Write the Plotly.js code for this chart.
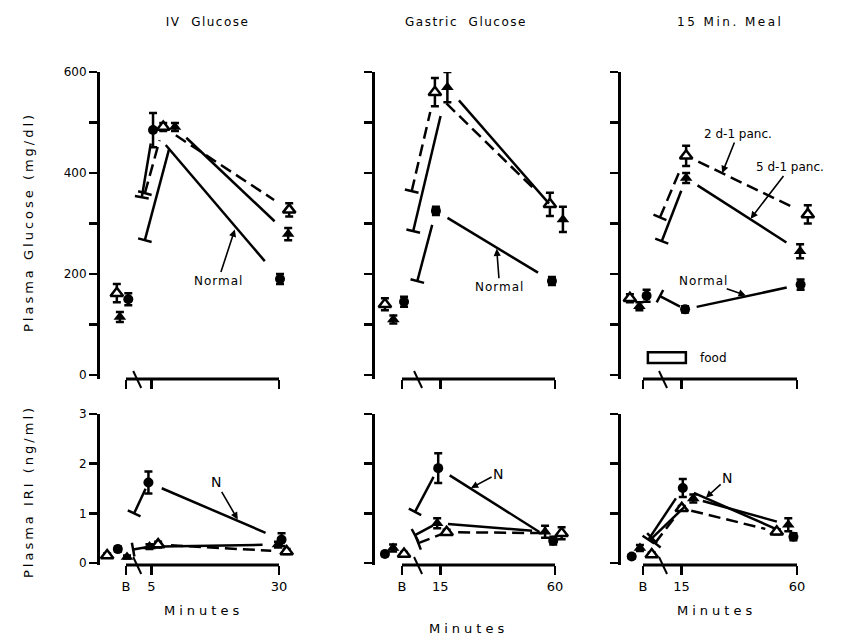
<!DOCTYPE html>
<html><head><meta charset="utf-8">
<script src="https://cdn.plot.ly/plotly-3.0.1.min.js"></script>
<style>html,body{margin:0;padding:0;background:#fff}</style>
</head><body><div id="chart" style="width:857px;height:635px"></div>
<script>
// ================= DATA =================
// Times in minutes (B = baseline, plotted near 0; markers are offset sideways as in the figure)
// Series order in each panel: Normal (filled circle), 2 d-1 panc. (open triangle), 5 d-1 panc. (filled triangle)

// --- IV Glucose : plasma glucose (mg/dl)
const ivGluNormT = [0.45, 5.3, 30.2];  const ivGluNormY = [150, 485, 190]; const ivGluNormE = [12, 34, 10];
const ivGlu2dT   = [-1.8, 7.3, 32.0];  const ivGlu2dY   = [162, 491, 327]; const ivGlu2dE   = [18, 8, 13];
const ivGlu5dT   = [-1.2, 9.6, 31.8];  const ivGlu5dY   = [115, 491, 279]; const ivGlu5dE   = [10, 8, 12];
const ivGluRiseT = [3.1, 3.7, 3.7];    const ivGluRiseY = [352, 360, 267];

// --- Gastric Glucose : plasma glucose
const gaGluNormT = [0.8, 13.3, 58.8];  const gaGluNormY = [145, 325, 186]; const gaGluNormE = [10, 8, 8];
const gaGlu2dT   = [-6.7, 12.9, 58.0]; const gaGlu2dY   = [140, 560, 338]; const gaGlu2dE   = [12, 28, 23];
const gaGlu5dT   = [-3.4, 17.8, 63.1]; const gaGlu5dY   = [110, 570, 308]; const gaGlu5dE   = [8, 30, 25];
const gaGluRiseT = [6.0, 3.8, 4.4];    const gaGluRiseY = [186, 364, 285];

// --- 15 Min. Meal : plasma glucose
const mlGluNormT = [1.4, 16.4, 61.4];  const mlGluNormY = [157, 130, 179]; const mlGluNormE = [12, 6, 10];
const mlGlu2dT   = [-5.1, 16.8, 64.2]; const mlGlu2dY   = [152, 434, 318]; const mlGlu2dE   = [8, 20, 18];
const mlGlu5dT   = [-1.4, 16.8, 61.2]; const mlGlu5dY   = [136, 390, 245]; const mlGlu5dE   = [8, 10, 14];
const mlGluRiseT = [6.6, 6.6, 7.3];    const mlGluRiseY = [156, 312, 265];

// --- IV Glucose : plasma IRI (ng/ml)
const ivIriNormT = [-1.6, 4.4, 30.5];  const ivIriNormY = [0.28, 1.62, 0.47]; const ivIriNormE = [0.05, 0.22, 0.13];
const ivIri2dT   = [-3.7, 6.3, 31.5];  const ivIri2dY   = [0.15, 0.37, 0.23]; const ivIri2dE   = [0.04, 0.06, 0.05];
const ivIri5dT   = [0.2, 4.6, 29.8];   const ivIri5dY   = [0.12, 0.33, 0.37]; const ivIri5dE   = [0.03, 0.05, 0.06];
const ivIriRiseT = [1.6, null, 1.4];   const ivIriRiseY = [1.0, null, 0.27];

// --- Gastric Glucose : plasma IRI
const gaIriNormT = [-6.7, 14.2, 59.3]; const gaIriNormY = [0.18, 1.91, 0.45]; const gaIriNormE = [0.04, 0.30, 0.08];
const gaIri2dT   = [0.8, 17.5, 62.6];  const gaIri2dY   = [0.18, 0.62, 0.60]; const gaIri2dE   = [0.04, 0.05, 0.12];
const gaIri5dT   = [-3.5, 13.8, 56.1]; const gaIri5dY   = [0.30, 0.80, 0.63]; const gaIri5dE   = [0.07, 0.10, 0.12];
const gaIriRiseT = [5.1, 6.4, 5.1];    const gaIriRiseY = [1.03, 0.40, 0.56];

// --- 15 Min. Meal : plasma IRI
const mlIriNormT = [-4.4, 15.5, 58.6]; const mlIriNormY = [0.13, 1.51, 0.53]; const mlIriNormE = [0.04, 0.18, 0.07];
const mlIri2dT   = [3.4, 15.1, 52.1];  const mlIri2dY   = [0.17, 1.10, 0.63]; const mlIri2dE   = [0.04, 0.05, 0.05];
const mlIri5dT   = [-1.2, 19.6, 56.6]; const mlIri5dY   = [0.30, 1.30, 0.77]; const mlIri5dE   = [0.06, 0.08, 0.13];
const mlIriRiseT = [2.1, 4.7, 3.5];    const mlIriRiseY = [0.47, 0.40, 0.50];

// Axis ticks
const xTickVals = [[0, 5, 30], [0, 15, 60], [0, 15, 60]];
const xTickText = [['B', '5', '30'], ['B', '15', '60'], ['B', '15', '60']];
const gluTicks = [0, 100, 200, 300, 400, 500, 600];
const gluTickText = ['0', '', '200', '', '400', '', '600'];
const iriTicks = [0, 1, 2, 3];
const iriTickText = ['0', '1', '2', '3'];
const columnTitles = ['IV\u00a0 Glucose', 'Gastric\u00a0 Glucose', '15 Min. Meal'];

// ================= LAYOUT GEOMETRY =================
const W = 857, H = 635;
const FONT = 'DejaVu Sans';
const cols = [
  {left: 100, right: 302, B: 126, sx: 5.1,   last: 30, brk: 2.2},
  {left: 375, right: 577, B: 402, sx: 2.55,  last: 60, brk: 6.3},
  {left: 621, right: 832, B: 643, sx: 2.567, last: 60, brk: 7.8}
];
const rows = [
  {zero: 375, top: 72,  axis: 379, vmax: 600, sy: 303 / 600, ticks: gluTicks, text: gluTickText},
  {zero: 563, top: 414, axis: 565, vmax: 3,   sy: 149 / 3,   ticks: iriTicks, text: iriTickText}
];

const panels = [
  {row: 0, col: 0, s: [[ivGluNormT, ivGluNormY, ivGluNormE], [ivGlu2dT, ivGlu2dY, ivGlu2dE], [ivGlu5dT, ivGlu5dY, ivGlu5dE]], rt: ivGluRiseT, ry: ivGluRiseY},
  {row: 0, col: 1, s: [[gaGluNormT, gaGluNormY, gaGluNormE], [gaGlu2dT, gaGlu2dY, gaGlu2dE], [gaGlu5dT, gaGlu5dY, gaGlu5dE]], rt: gaGluRiseT, ry: gaGluRiseY},
  {row: 0, col: 2, s: [[mlGluNormT, mlGluNormY, mlGluNormE], [mlGlu2dT, mlGlu2dY, mlGlu2dE], [mlGlu5dT, mlGlu5dY, mlGlu5dE]], rt: mlGluRiseT, ry: mlGluRiseY},
  {row: 1, col: 0, s: [[ivIriNormT, ivIriNormY, ivIriNormE], [ivIri2dT, ivIri2dY, ivIri2dE], [ivIri5dT, ivIri5dY, ivIri5dE]], rt: ivIriRiseT, ry: ivIriRiseY},
  {row: 1, col: 1, s: [[gaIriNormT, gaIriNormY, gaIriNormE], [gaIri2dT, gaIri2dY, gaIri2dE], [gaIri5dT, gaIri5dY, gaIri5dE]], rt: gaIriRiseT, ry: gaIriRiseY},
  {row: 1, col: 2, s: [[mlIriNormT, mlIriNormY, mlIriNormE], [mlIri2dT, mlIri2dY, mlIri2dE], [mlIri5dT, mlIri5dY, mlIri5dE]], rt: mlIriRiseT, ry: mlIriRiseY}
];

const styles = [
  {marker: {symbol: 'circle', size: 10, color: '#000'}, dash: 'solid'},
  {marker: {symbol: 'triangle-up', size: 11, color: '#fff', line: {color: '#000', width: 2.5}}, dash: '12px,6px'},
  {marker: {symbol: 'triangle-up', size: 11, color: '#000'}, dash: 'solid'}
];

const traces = [];
const layout = {
  width: W, height: H, margin: {l: 0, r: 0, t: 0, b: 0},
  paper_bgcolor: '#fff', plot_bgcolor: 'rgba(0,0,0,0)', showlegend: false,
  font: {family: FONT, color: '#000', size: 12},
  shapes: [], annotations: []
};

function seg(p, q, a, b) {
  return {x: [p[0] + (q[0] - p[0]) * a, p[0] + (q[0] - p[0]) * b],
          y: [p[1] + (q[1] - p[1]) * a, p[1] + (q[1] - p[1]) * b]};
}

panels.forEach((P, k) => {
  const n = k + 1, c = cols[P.col], r = rows[P.row];
  const xa = n === 1 ? 'x' : 'x' + n, ya = n === 1 ? 'y' : 'y' + n;
  layout['xaxis' + (n === 1 ? '' : n)] = {
    domain: [c.left / W, c.right / W], range: [(c.left - c.B) / c.sx, (c.right - c.B) / c.sx],
    anchor: ya, showline: false, zeroline: false, showgrid: false,
    ticks: 'outside', tickvals: xTickVals[P.col], ticktext: xTickText[P.col],
    ticklen: 9, tickwidth: 2.5, tickcolor: '#000',
    showticklabels: P.row === 1, tickfont: {family: FONT, size: 13, color: '#000'}
  };
  layout['yaxis' + (n === 1 ? '' : n)] = {
    domain: [1 - r.axis / H, 1 - r.top / H], range: [-(r.axis - r.zero) / r.sy, r.vmax],
    anchor: xa, showline: true, linewidth: 3, linecolor: '#000', zeroline: false, showgrid: false,
    ticks: 'outside', tickvals: r.ticks, ticktext: P.col === 0 ? r.text : r.ticks.map(() => ''),
    ticklen: 8, tickwidth: 2.5, tickcolor: '#000', tickfont: {family: FONT, size: 12, color: '#000'}
  };
  // x-axis line from B to last tick, plus axis-break mark
  const yAx = 1 - r.axis / H;
  layout.shapes.push({type: 'line', xref: 'paper', yref: 'paper',
    x0: c.B / W, x1: (c.B + c.last * c.sx) / W, y0: yAx, y1: yAx, line: {color: '#000', width: 3}});
  const bx = c.B + c.brk * c.sx;
  layout.shapes.push({type: 'line', xref: 'paper', yref: 'paper',
    x0: (bx - 4) / W, x1: (bx + 4) / W, y0: 1 - (r.axis - 8) / H, y1: 1 - (r.axis + 9) / H,
    line: {color: '#000', width: 2}});

  P.s.forEach((S, j) => {
    const st = styles[j];
    const pts = S[0].map((t, i) => [t, S[1][i]]);
    // decay line between time point 1 and 2
    const d = seg(pts[1], pts[2], 0.1, 0.88);
    traces.push({x: d.x, y: d.y, xaxis: xa, yaxis: ya, mode: 'lines', hoverinfo: 'skip',
      line: {color: '#000', width: 2.5, dash: st.dash}});
    // rise line emerging from the axis break toward the peak
    if (P.rt[j] !== null) {
      const s0 = [P.rt[j], P.ry[j]];
      const rr = seg(s0, pts[1], 0, 0.8);
      traces.push({x: rr.x, y: rr.y, xaxis: xa, yaxis: ya, mode: 'lines', hoverinfo: 'skip',
        line: {color: '#000', width: 2.5, dash: st.dash}});
      const ang = Math.atan2(-(pts[1][1] - s0[1]) * r.sy, (pts[1][0] - s0[0]) * c.sx) * 180 / Math.PI;
      traces.push({x: [s0[0]], y: [s0[1]], xaxis: xa, yaxis: ya, mode: 'markers', hoverinfo: 'skip',
        marker: {symbol: 'line-ns', size: 10, angle: ang, line: {color: '#000', width: 2.5}}});
    }
    // markers with SEM bars
    traces.push({x: S[0], y: S[1], xaxis: xa, yaxis: ya, mode: 'markers', cliponaxis: false,
      marker: st.marker,
      error_y: {type: 'data', array: S[2], visible: true, thickness: 2.5, width: 4, color: '#000'}});
  });
});

// food period box (15 Min. Meal)
layout.shapes.push({type: 'rect', xref: 'x3', yref: 'y3', x0: 1.9, x1: 16.7, y0: 24, y1: 45,
  line: {color: '#000', width: 2.5}, fillcolor: '#fff'});

const A = layout.annotations;
const pa = (text, px, py, size, extra) => A.push(Object.assign({text: text, xref: 'paper', yref: 'paper',
  x: px / W, y: 1 - py / H, xanchor: 'center', yanchor: 'middle', showarrow: false,
  font: {family: FONT, size: size, color: '#000'}}, extra || {}));
pa(columnTitles[0], 207, 22, 12);
pa(columnTitles[1], 466, 22, 12);
pa(columnTitles[2], 730, 22, 12);
pa('Plasma Glucose (mg/dl)', 28, 222, 13, {textangle: -90});
pa('Plasma IRI (ng/ml)', 28, 492, 13, {textangle: -90});
pa('Minutes', 203, 610, 13);
pa('Minutes', 468, 628, 13);
pa('Minutes', 716, 610, 13);

const arr = (text, xr, yr, x, y, ax, ay, size) => A.push({text: text, xref: xr, yref: yr, x: x, y: y,
  ax: ax, ay: ay, showarrow: true, arrowhead: 2, arrowsize: 0.9, arrowwidth: 1.6, arrowcolor: '#000',
  standoff: 1, font: {family: FONT, size: size || 12, color: '#000'}});
arr('Normal', 'x', 'y', 21.4, 290, -17, 52);
arr('Normal', 'x2', 'y2', 37.1, 252, 3, 39);
arr('2 d-1 panc.', 'x3', 'y3', 30.7, 398, 16, -40);
arr('5 d-1 panc.', 'x3', 'y3', 41.7, 308, 40, -52);
arr('Normal', 'x3', 'y3', 40.4, 157, -43, -15);
arr('N', 'x4', 'y4', 22, 0.86, -22, -38, 14);
arr('N', 'x5', 'y5', 26.7, 1.5, 28, -15, 14);
arr('N', 'x6', 'y6', 24.2, 1.3, 22, -20, 14);
A.push({text: 'food', xref: 'x3', yref: 'y3', x: 21.5, y: 34, xanchor: 'left', showarrow: false,
  font: {family: FONT, size: 12, color: '#000'}});

const spacing = {};
spacing[columnTitles[0]] = 1.5; spacing[columnTitles[1]] = 1.5; spacing[columnTitles[2]] = 2.5;
spacing['Plasma Glucose (mg/dl)'] = 3; spacing['Plasma IRI (ng/ml)'] = 3; spacing['Minutes'] = 4;
spacing['Normal'] = 1;

Plotly.newPlot('chart', traces, layout, {staticPlot: true, displayModeBar: false}).then(gd => {
  gd.querySelectorAll('text.annotation-text').forEach(t => {
    const s = spacing[t.textContent];
    if (s) t.setAttribute('letter-spacing', s);
  });
});
</script></body></html>
